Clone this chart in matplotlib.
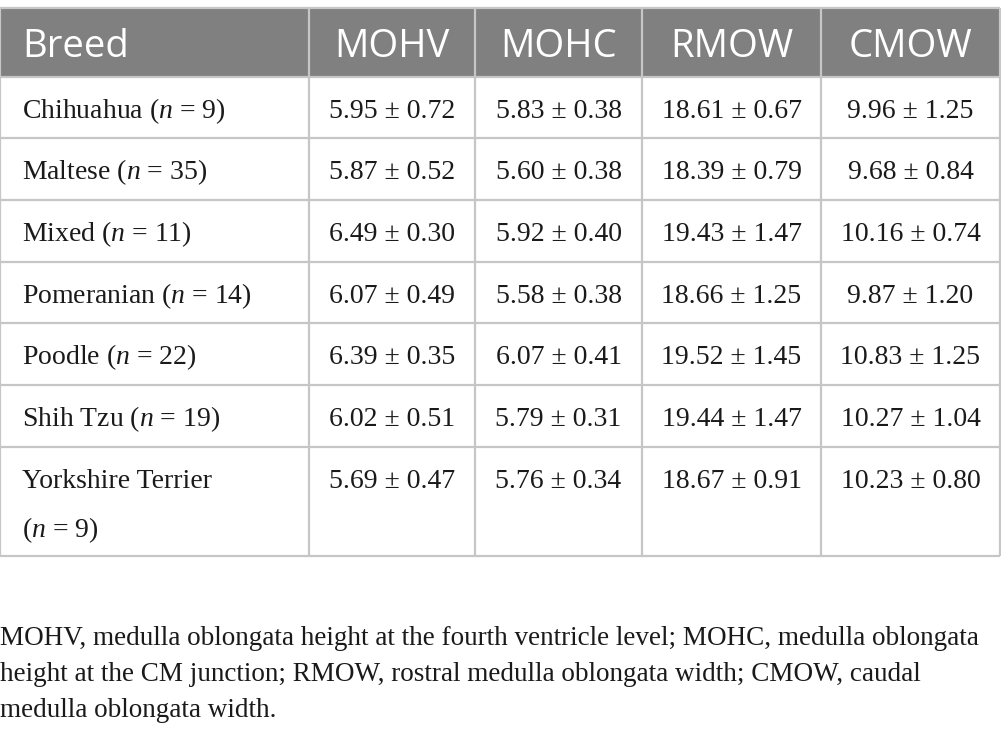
import matplotlib
matplotlib.use("Agg")
import matplotlib.pyplot as plt
from matplotlib.patches import Rectangle

plt.rcParams['mathtext.fontset'] = 'custom'
plt.rcParams['mathtext.rm'] = 'Liberation Serif'
plt.rcParams['mathtext.it'] = 'Liberation Serif:italic'

# ---------------- data ----------------
headers = ["Breed", "MOHV", "MOHC", "RMOW", "CMOW"]
breeds = ["Chihuahua", "Maltese", "Mixed", "Pomeranian", "Poodle", "Shih Tzu", "Yorkshire Terrier"]
n_dogs = [9, 35, 11, 14, 22, 19, 9]

mohv_mean = [5.95, 5.87, 6.49, 6.07, 6.39, 6.02, 5.69]
mohv_sd = [0.72, 0.52, 0.30, 0.49, 0.35, 0.51, 0.47]
mohc_mean = [5.83, 5.60, 5.92, 5.58, 6.07, 5.79, 5.76]
mohc_sd = [0.38, 0.38, 0.40, 0.38, 0.41, 0.31, 0.34]
rmow_mean = [18.61, 18.39, 19.43, 18.66, 19.52, 19.44, 18.67]
rmow_sd = [0.67, 0.79, 1.47, 1.25, 1.45, 1.47, 0.91]
cmow_mean = [9.96, 9.68, 10.16, 9.87, 10.83, 10.27, 10.23]
cmow_sd = [1.25, 0.84, 0.74, 1.20, 1.25, 1.04, 0.80]

footnote = ["MOHV, medulla oblongata height at the fourth ventricle level; MOHC, medulla oblongata",
            "height at the CM junction; RMOW, rostral medulla oblongata width; CMOW, caudal",
            "medulla oblongata width."]

# ---------------- layout (pixels) ----------------
col_edges = [0, 309, 475, 642, 821, 1000]
row_edges = [8, 77, 138, 200, 262, 323, 385, 447, 556]
grid_col = "#c6c6c6"
head_col = "#808080"

fig = plt.figure(figsize=(10.01, 7.38), dpi=100)
ax = fig.add_axes([0, 0, 1, 1])
ax.set_xlim(0, 1001)
ax.set_ylim(738, 0)
ax.axis("off")

# header band
ax.add_patch(Rectangle((0, row_edges[0]), 1000, row_edges[1] - row_edges[0],
                       facecolor=head_col, edgecolor="none"))

# grid lines
for y in row_edges:
    ax.plot([0, 1000], [y, y], color=grid_col, lw=1.6, solid_capstyle="butt")
for x in col_edges:
    ax.plot([x, x], [row_edges[0], row_edges[-1]], color=grid_col, lw=1.6, solid_capstyle="butt")

# header text
hy = 57
ax.text(22, hy, headers[0], color="white", fontsize=27.5, family="Open Sans",
        ha="left", va="baseline")
for j, h in enumerate(headers[1:]):
    cx = (col_edges[j + 1] + col_edges[j + 2]) / 2
    ax.text(cx, hy, h, color="white", fontsize=27.5, family="Open Sans",
            ha="center", va="baseline")

# body
body_kw = dict(color="#1a1a1a", fontsize=20, family="Liberation Serif", va="baseline")
cols = [(mohv_mean, mohv_sd), (mohc_mean, mohc_sd), (rmow_mean, rmow_sd), (cmow_mean, cmow_sd)]
for i, b in enumerate(breeds):
    ty = row_edges[i + 1] + 41
    if b == "Yorkshire Terrier":
        ax.text(22, ty, b, ha="left", **body_kw)
        ax.text(22, ty + 49, "($n$ = %d)" % n_dogs[i], ha="left", **body_kw)
    else:
        ax.text(22, ty, "%s ($n$ = %d)" % (b, n_dogs[i]), ha="left", **body_kw)
    for j, (m, s) in enumerate(cols):
        cx = (col_edges[j + 1] + col_edges[j + 2]) / 2
        ax.text(cx, ty, "%.2f ± %.2f" % (m[i], s[i]), ha="center", **body_kw)

# footnote
for k, line in enumerate(footnote):
    ax.text(0, 645 + k * 36, line, ha="left", va="baseline", color="#1a1a1a",
            fontsize=19.5, family="Liberation Serif")

fig.savefig("out.png", dpi=100)
